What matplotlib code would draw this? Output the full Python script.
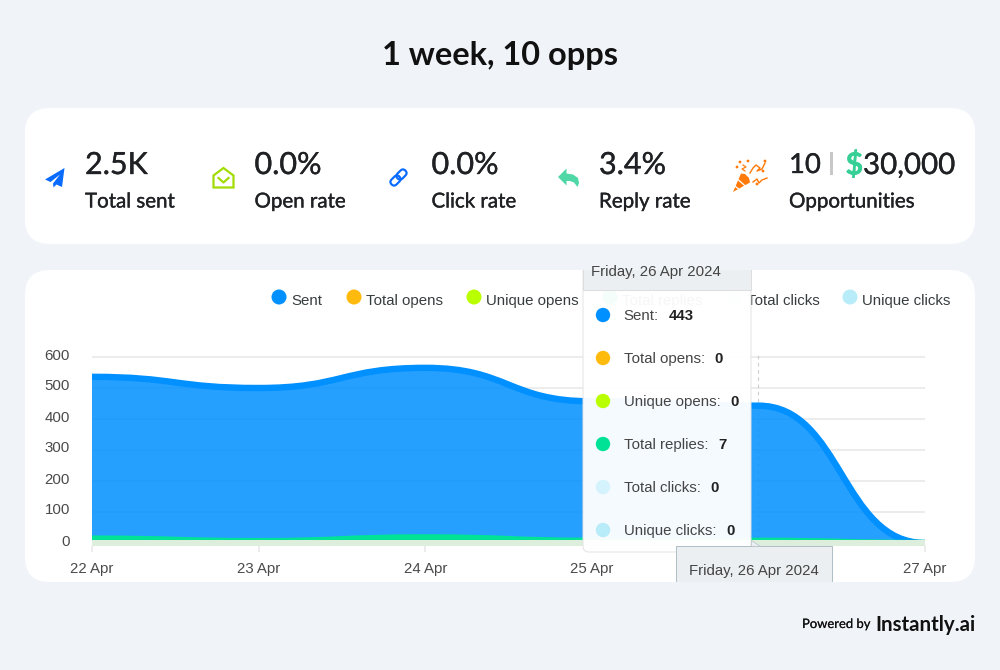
import numpy as np
import matplotlib
matplotlib.use("Agg")
import matplotlib.pyplot as plt
import matplotlib.patheffects as pe
from matplotlib.patches import FancyBboxPatch, PathPatch, Polygon, Circle, Rectangle
from matplotlib.path import Path
from matplotlib.transforms import Affine2D, ScaledTranslation

# chart data
days = ["22 Apr", "23 Apr", "24 Apr", "25 Apr", "26 Apr", "27 Apr"]
sent = [536, 500, 565, 457, 443, 0]
total_opens = [0, 0, 0, 0, 0, 0]
unique_opens = [0, 0, 0, 0, 0, 0]
total_replies = [14, 6, 18, 7, 7, 0]
total_clicks = [0, 0, 0, 0, 0, 0]
unique_clicks = [0, 0, 0, 0, 0, 0]
y_ticks = [0, 100, 200, 300, 400, 500, 600]
hover_day = 4
hover_label = "Friday, 26 Apr 2024"

series_names = ["Sent", "Total opens", "Unique opens", "Total replies", "Total clicks", "Unique clicks"]
series_colors = ["#0090ff", "#ffbb0d", "#b9ff00", "#00e396", "#d5f3fd", "#b8ecf9"]
series_values = [sent, total_opens, unique_opens, total_replies, total_clicks, unique_clicks]

# summary cards
kpi_values = ["2.5K", "0.0%", "0.0%", "3.4%"]
kpi_labels = ["Total sent", "Open rate", "Click rate", "Reply rate"]
kpi_x = [85, 254.5, 431.5, 599]

UI_FONT = ["Lato", "DejaVu Sans"]
CHART_FONT = ["Liberation Sans", "DejaVu Sans"]
DARK = "#202124"
PAGE = "#f0f4f9"
CHART_PX = 15


def pts(px):
    # figure is 100 dpi, so css pixels to points
    return px * 0.72


def pixel_axes(fig, zorder):
    ax = fig.add_axes([0, 0, 1, 1], zorder=zorder)
    ax.set_xlim(0, 1000)
    ax.set_ylim(670, 0)
    ax.axis("off")
    ax.patch.set_alpha(0)
    return ax


def ui_text(ax, x, y, s, size, color=DARK, weight="normal", stroke=0.25, ha="left"):
    # Lato is lighter than the page font, a thin outline thickens it
    t = ax.text(x, y, s, ha=ha, va="center", fontsize=pts(size), fontweight=weight, family=UI_FONT, color=color)
    if stroke:
        t.set_path_effects([pe.withStroke(linewidth=stroke, foreground=color)])
    return t


def smooth_path(x, y, close_to=None):
    verts = [(x[0], y[0])]
    codes = [Path.MOVETO]
    for i in range(len(x) - 1):
        mid = (x[i + 1] - x[i]) * 0.5
        verts += [(x[i] + mid, y[i]), (x[i + 1] - mid, y[i + 1]), (x[i + 1], y[i + 1])]
        codes += [Path.CURVE4] * 3
    if close_to is not None:
        verts += [(x[-1], close_to), (x[0], close_to), (x[0], close_to)]
        codes += [Path.LINETO, Path.LINETO, Path.CLOSEPOLY]
    return Path(verts, codes)


def draw_series(ax, values, color, fill_alpha):
    x = np.arange(len(values))
    if fill_alpha > 0:
        ax.add_patch(PathPatch(smooth_path(x, values, close_to=0), facecolor=color,
                               edgecolor="none", alpha=fill_alpha, zorder=3))
    ax.add_patch(PathPatch(smooth_path(x, values), facecolor="none", edgecolor=color,
                           lw=pts(6.4), capstyle="butt", zorder=4))


def draw_icons(ax):
    # paper plane
    ax.add_patch(Polygon([(64.5, 168), (45, 179.5), (50.5, 182), (60, 174.5), (53, 183.5),
                          (53.5, 187.5), (56.5, 184.5), (62, 187)], color="#0a6cff", lw=0))
    # open envelope
    ax.add_patch(Polygon([(213.5, 175.5), (223.5, 168), (233.5, 175.5), (233.5, 187.5), (213.5, 187.5)],
                         closed=True, fill=False, edgecolor="#a2dc00", lw=pts(2.2)))
    ax.plot([218.5, 223.5, 228.5], [178, 182.5, 178], color="#a2dc00", lw=pts(2.2))
    # link
    for cx, cy in [(401.5, 174.5), (395.5, 180.5)]:
        tr = Affine2D().rotate_deg_around(cx, cy, -45) + ax.transData
        ax.add_patch(FancyBboxPatch((cx - 5.5, cy - 3.5), 11, 7, boxstyle="round,pad=0,rounding_size=3.5",
                                    fill=False, edgecolor="#0a6cff", lw=pts(2.2), transform=tr))
    # reply arrow
    ax.add_patch(Polygon([(558, 177), (566.5, 168.5), (566.5, 173.5), (573, 174.5), (578, 178), (579, 183),
                          (577.5, 187), (574, 182.5), (570, 181), (566.5, 181), (566.5, 185.5)],
                         color="#4fd8a6", lw=0))
    # party popper
    orange = "#ff7a0a"
    ax.add_patch(Polygon([(733, 192), (741, 173.5), (745, 174), (749, 178), (750, 182.5)], color=orange, lw=0))
    for a, b in [((738.5, 180), (747, 187.5)), ((735.5, 186.5), (741, 191))]:
        ax.plot([a[0], b[0]], [a[1], b[1]], color="white", lw=pts(1.3))
    ax.plot([750, 753, 756, 760, 757, 762, 765], [173, 168, 165, 168, 171, 169, 163], color=orange, lw=pts(1.4))
    ax.plot([753, 757, 759, 762, 767], [182, 179, 183, 180, 178], color=orange, lw=pts(1.4))
    ax.plot([743, 746, 742, 745], [165, 167, 169, 171], color=orange, lw=pts(1.2))
    for sx, sy in [(740, 162), (748, 161), (737, 167), (765, 161), (763, 171), (757, 184)]:
        ax.add_patch(Circle((sx, sy), 1.4, color=orange, lw=0))


def main():
    fig = plt.figure(figsize=(10, 6.7), dpi=100, facecolor=PAGE)

    # background layer with the cards
    back = pixel_axes(fig, 0)
    card_style = "round,pad=0,rounding_size=25"
    back.add_patch(FancyBboxPatch((25, 108), 950, 136, boxstyle=card_style, fc="white", ec="none"))
    card = FancyBboxPatch((25, 270), 950, 312, boxstyle=card_style, fc="white", ec="none")
    back.add_patch(card)

    ui_text(back, 500, 55, "1 week, 10 opps", 32.5, color="#111", weight="bold", stroke=0, ha="center")

    for x0, val, lab in zip(kpi_x, kpi_values, kpi_labels):
        ui_text(back, x0, 165, val, 30.5)
        ui_text(back, x0, 202, lab, 20.5)
    ui_text(back, 789, 165, "10", 27.5)
    back.add_patch(Rectangle((830, 152), 3, 23, color="#c8c8c8", lw=0))
    ui_text(back, 845.5, 165, "$", 30.5, color="#36cf95", weight="bold")
    ui_text(back, 863, 165, "30,000", 29.5)
    ui_text(back, 789, 202, "Opportunities", 20.5)
    draw_icons(back)

    ui_text(back, 802, 624, "Powered by", 13, color="#111", stroke=0.1)
    ui_text(back, 875, 625, "Instantly.ai", 20.5, color="#111", weight="bold", stroke=0)

    # legend row
    legend_x = [279, 354, 474, 610, 735, 850]
    for name, color, lx in zip(series_names, series_colors, legend_x):
        back.add_patch(Circle((lx, 297), 7.5, color=color, lw=0))
        back.text(lx + 12, 301, name, va="center", fontsize=pts(CHART_PX), family=CHART_FONT, color="#373d3f")

    # area chart, 0 sits at y=543 and 600 at y=357 in pixels
    px_per_unit = 186 / 600
    ax = fig.add_axes([92 / 1000, (670 - 546) / 670, 833 / 1000, 192 / 670], zorder=1)
    ax.patch.set_alpha(0)
    ax.set_xlim(0, len(days) - 1)
    ax.set_ylim(-3 / px_per_unit, 600 + 3 / px_per_unit)
    for s in ax.spines.values():
        s.set_visible(False)
    ax.set_yticks(y_ticks)
    ax.set_xticks(range(len(days)))
    # the label of the hovered day sits under the date tooltip
    ax.set_xticklabels(["" if i == hover_day else d for i, d in enumerate(days)])
    ax.tick_params(axis="y", length=0, pad=pts(22), labelsize=pts(CHART_PX), labelcolor="#4a4a4a")
    ax.tick_params(axis="x", length=pts(6), width=pts(1.5), color="#e6e6e6", pad=pts(10),
                   labelsize=pts(CHART_PX), labelcolor="#4a4a4a")
    for lab in ax.get_xticklabels() + ax.get_yticklabels():
        lab.set_family(CHART_FONT)
    for lab in ax.get_yticklabels():
        lab.set_transform(lab.get_transform() + ScaledTranslation(0, 3 / 100, fig.dpi_scale_trans))
    ax.grid(axis="y", color="#ececec", lw=pts(2))
    ax.set_axisbelow(True)
    ax.axvline(hover_day, color="#cfcfcf", lw=pts(1.2), ls=(0, (3, 3)), zorder=2)

    draw_series(ax, sent, series_colors[0], 0.85)
    draw_series(ax, total_replies, series_colors[3], 0)
    ax.fill_between(range(len(days)), 0, -3 / px_per_unit, color="#ddeedd", lw=0, zorder=5)
    for zero_series in [total_opens, unique_opens, total_clicks, unique_clicks]:
        ax.plot(range(len(days)), zero_series, color="#ddeedd", lw=pts(6), solid_capstyle="butt",
                clip_on=False, zorder=5)

    # hover tooltips, cut off by the card edge like in the page
    top = pixel_axes(fig, 2)
    box = FancyBboxPatch((583, 240), 168, 312, boxstyle="round,pad=0,rounding_size=6",
                         fc="white", ec="#e3e3e3", lw=pts(1), alpha=0.96)
    top.add_patch(box)
    box.set_clip_path(card)
    head = Rectangle((583, 240), 168, 50, fc="#eceff1", ec="#dddddd", lw=pts(1))
    top.add_patch(head)
    head.set_clip_path(card)
    t = top.text(591, 272, hover_label, va="center", fontsize=pts(CHART_PX), family=CHART_FONT, color="#444")
    t.set_clip_on(True)
    t.set_clip_path(card)

    for i, (name, color, vals) in enumerate(zip(series_names, series_colors, series_values)):
        yy = 315 + i * 43
        top.add_patch(Circle((603, yy), 7.2, color=color, lw=0))
        lab = top.text(623.5, yy + 1, name + ":", va="center", fontsize=pts(CHART_PX), family=CHART_FONT, color="#444")
        fig.canvas.draw()
        end = top.transData.inverted().transform(lab.get_window_extent().corners()[-1])[0]
        top.text(end + 10, yy + 1, str(vals[hover_day]), va="center", fontsize=pts(CHART_PX), fontweight="bold",
                 family=CHART_FONT, color="#222")

    xbox = Rectangle((675.5, 545.5), 156, 60, fc="#eceff1", ec="#b0bec5", lw=pts(1))
    top.add_patch(xbox)
    xbox.set_clip_path(card)
    top.add_patch(Polygon([(751, 540), (751, 545.5), (760, 545.5)], fc="#eceff1", ec="#b0bec5", lw=pts(0.6)))
    top.text(753.5, 570.5, hover_label, ha="center", va="center", fontsize=pts(CHART_PX), family=CHART_FONT, color="#444")

    fig.savefig("out.png", dpi=100, facecolor=PAGE)


if __name__ == "__main__":
    main()
